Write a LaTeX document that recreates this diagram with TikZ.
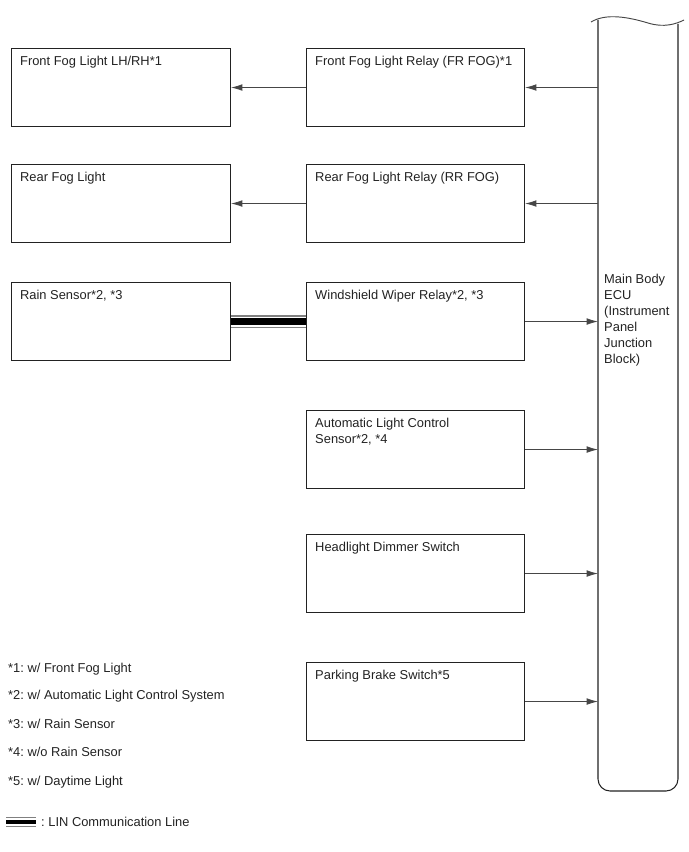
\documentclass[tikz,border=0pt]{standalone}
\usepackage{fontspec}
\setmainfont{Liberation Sans}
\frenchspacing
\definecolor{lnblack}{RGB}{34,34,34}
\definecolor{arrgray}{RGB}{70,70,70}
\usetikzlibrary{arrows.meta,positioning}

\begin{document}
\begin{tikzpicture}[x=0.03cm, y=-0.03cm,
  every node/.style={font=\fontsize{11}{13.6}\selectfont, text=lnblack},
  blockbox/.style={draw=lnblack, line width=0.9pt, minimum width=6.54cm, minimum height=2.34cm, inner sep=0pt, anchor=north west},
  boxtxt/.style={anchor=north west, inner sep=0pt, align=left, xshift=0.27cm, yshift=-0.25cm},
  arr/.style={draw=arrgray, line width=0.7pt, -{Latex[length=0.34cm, width=0.2cm]}},
  linbus/.style={draw=gray, line width=0.39cm, postaction={draw=white, line width=0.3cm}, postaction={draw=black, line width=0.21cm}},
  linkey/.style={draw=gray, line width=0.3cm, postaction={draw=white, line width=0.22cm}, postaction={draw=black, line width=0.14cm}},
  note/.style={anchor=west, inner sep=0pt}]
  \useasboundingbox (0,0) rectangle (688,852);

  % main body ecu column
  \node[minimum width=2.4cm, minimum height=23.19cm, inner sep=0pt, anchor=north west] (ecu) at (598,18) {};
  \draw[lnblack, line width=0.9pt, rounded corners=0.36cm] (598,20) -- (598,791) -- (678,791) -- (678,24);
  \draw[arrgray, line width=0.8pt] (591,22) .. controls (606,13) and (628,17) .. (648,23) .. controls (664,28) and (676,24) .. (684,20);
  \node[anchor=north west, inner sep=0pt, align=left] (ecutxt) at (604,274) {Main Body\\ECU\\(Instrument\\Panel\\Junction\\Block)};

  % relays and switches
  \node[blockbox, label={[boxtxt]north west:Front Fog Light Relay (FR FOG)*1}] (frr) at (306,48) {};
  \node[blockbox, label={[boxtxt]north west:Rear Fog Light Relay (RR FOG)}] (rrr) at (306,164) {};
  \node[blockbox, label={[boxtxt]north west:Windshield Wiper Relay*2, *3}] (wwr) at (306,282) {};
  \node[blockbox, label={[boxtxt]north west:Automatic Light Control\\Sensor*2, *4}] (alc) at (306,410) {};
  \node[blockbox, label={[boxtxt]north west:Headlight Dimmer Switch}] (hds) at (306,534) {};
  \node[blockbox, label={[boxtxt]north west:Parking Brake Switch*5}] (pbs) at (306,662) {};

  % lights and sensor
  \node[blockbox, minimum width=6.57cm, anchor=east, left=2.25cm of frr, label={[boxtxt]north west:Front Fog Light LH/RH*1}] (ffl) {};
  \node[blockbox, minimum width=6.57cm, anchor=east, left=2.25cm of rrr, label={[boxtxt]north west:Rear Fog Light}] (rfl) {};
  \node[blockbox, minimum width=6.57cm, anchor=east, left=2.25cm of wwr, label={[boxtxt]north west:Rain Sensor*2, *3}] (rns) {};

  % connectors
  \draw[arr] (ecu.west |- frr.east) -- (frr.east);
  \draw[arr] (ecu.west |- rrr.east) -- (rrr.east);
  \draw[arr] (frr.west) -- (ffl.east);
  \draw[arr] (rrr.west) -- (rfl.east);
  \draw[linbus] (rns.east) -- (wwr.west);
  \draw[arr] (wwr.east) -- (ecu.west |- wwr.east);
  \draw[arr] (alc.east) -- (ecu.west |- alc.east);
  \draw[arr] (hds.east) -- (ecu.west |- hds.east);
  \draw[arr] (pbs.east) -- (ecu.west |- pbs.east);

  % notes
  \node[note] (n1) at (8,669) {*1: w/ Front Fog Light};
  \node[note] (n2) at (8,696) {*2: w/ Automatic Light Control System};
  \node[note] (n3) at (8,724) {*3: w/ Rain Sensor};
  \node[note] (n4) at (8,752) {*4: w/o Rain Sensor};
  \node[note] (n5) at (8,782) {*5: w/ Daytime Light};
  \coordinate (lina) at (6,822);
  \coordinate (linb) at (36,822);
  \draw[linkey] (lina) -- (linb);
  \node[note, xshift=0.15cm] (lintxt) at (linb) {: LIN Communication Line};
\end{tikzpicture}
\end{document}
